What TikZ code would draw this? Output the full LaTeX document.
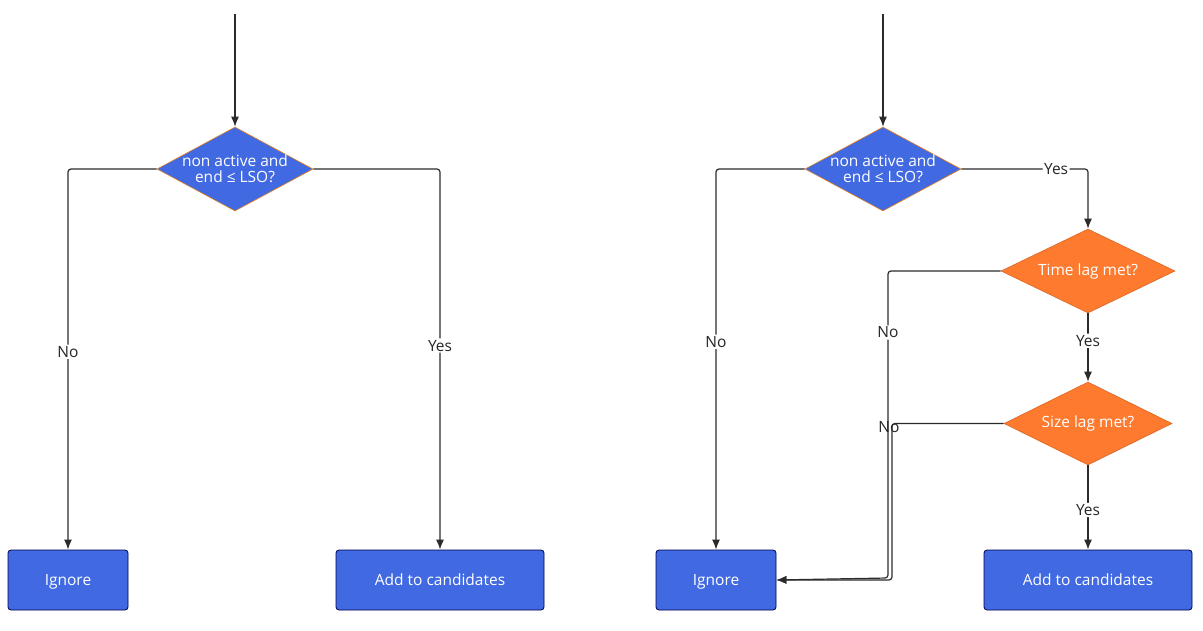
\documentclass[tikz,border=0pt]{standalone}
\usepackage{fontspec}
\setmainfont{Open Sans}
\usetikzlibrary{shapes.geometric,arrows.meta}
\definecolor{dblue}{HTML}{4169E1}
\definecolor{dorange}{HTML}{FE7A2E}
\definecolor{lnc}{HTML}{2B2B2B}
\tikzset{
  x=1pt,y=-1pt,
  every node/.style={font=\fontsize{15.5}{18}\selectfont},
  dtext/.style={text=white,align=center,inner sep=0pt,fill=none,draw=none},
  bluedia/.style={diamond,fill=dblue,draw=orange!60!brown,line width=0.6pt,inner sep=0pt,minimum width=156pt,minimum height=84pt},
  orgdia/.style={diamond,fill=dorange,draw=dorange!85!black,line width=0.6pt,inner sep=0pt},
  boxn/.style={rectangle,rounded corners=3pt,fill=dblue,draw=blue!30!black,line width=0.8pt,text=white,minimum height=60pt,text height=12pt,text depth=1pt},
  conn/.style={draw=lnc,line width=1.2pt,rounded corners=3pt,-{Latex[length=10pt,width=8pt]}},
  lbl/.style={fill=white,inner sep=1.5pt,text=black!85}
}
\begin{document}
\begin{tikzpicture}
\useasboundingbox (0,0) rectangle (1203,631);
% left
\coordinate (s1) at (235,14);
\node[bluedia] (d1) at (235,169) {};
\node[dtext] (d1t) at (d1.center) {non active and\\[-2pt]end ≤ LSO?};
\node[boxn,minimum width=120pt] (ig1) at (68,580) {Ignore};
\node[boxn,minimum width=208pt] (ad1) at (440,580) {Add to candidates};
\draw[conn] (s1) -- (d1.north);
\draw[conn] (d1.west) -| node[lbl,pos=0.74] {No} (ig1.north);
\draw[conn] (d1.east) -| node[lbl,pos=0.732] {Yes} (ad1.north);
% right
\coordinate (s2) at (883,14);
\node[bluedia] (d2) at (883,169) {};
\node[dtext] (d2t) at (d2.center) {non active and\\[-2pt]end ≤ LSO?};
\node[orgdia,minimum width=174pt,minimum height=84pt] (tl) at (1088,271) {};
\node[dtext] (tlt) at (tl.center) {Time lag met?};
\node[orgdia,minimum width=168pt,minimum height=83pt] (sl) at (1088,423.5) {};
\node[dtext] (slt) at (sl.center) {Size lag met?};
\node[boxn,minimum width=120pt] (ig2) at (716,580) {Ignore};
\node[boxn,minimum width=208pt] (ad2) at (1088,580) {Add to candidates};
\draw[conn] (s2) -- (d2.north);
\draw[conn] (d2.west) -| node[lbl,pos=0.727] {No} (ig2.north);
\draw[conn] (d2.east) -| node[lbl,pos=0.374] {Yes} (tl.north);
\draw[conn] (tl.south) -- node[lbl,pos=0.4] {Yes} (sl.north);
\draw[conn] (sl.south) -- node[lbl,pos=0.53] {Yes} (ad2.north);
\draw[conn] (tl.west) -- (888,271) -- node[lbl,pos=0.2] {No} (888,578) -- (ig2.east);
\draw[conn] (sl.west) -- (892,423.5) -- (892,580) -- (ig2.east);
\node[text=black!85,inner sep=0pt] (nolbl) at (889,427) {No};
\end{tikzpicture}
\end{document}
